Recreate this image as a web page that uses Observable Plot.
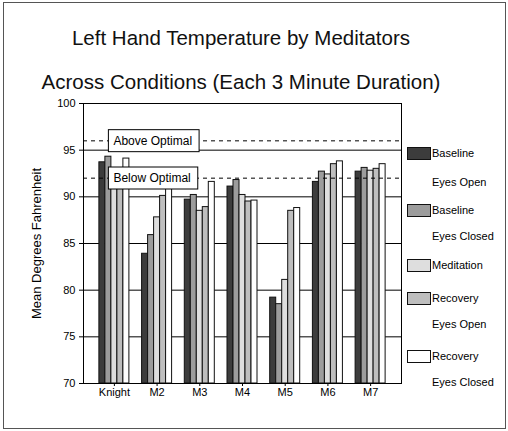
<!DOCTYPE html>
<html><head><meta charset="utf-8">
<script src="https://cdn.jsdelivr.net/npm/d3@7"></script>
<script src="https://cdn.jsdelivr.net/npm/@observablehq/plot@0.6"></script>
<style>
body{margin:0;background:#fff;}
#wrap{position:relative;width:508px;height:431px;overflow:hidden;font-family:"Liberation Sans",Arial,sans-serif;color:#000;background:#fff;}
#border{position:absolute;left:3px;top:2px;width:501px;height:425px;border:1px solid #555;}
.title{position:absolute;left:0;width:482px;text-align:center;font-size:20.5px;line-height:22px;white-space:nowrap;color:#111;}
#chart{position:absolute;left:0;top:95px;}
.leg{position:absolute;font-size:11px;line-height:12px;white-space:nowrap;}
.sw{position:absolute;width:22px;height:11px;border:1px solid #111;}
</style></head><body>
<div id="wrap">
  <div id="border"></div>
  <div class="title" style="top:27px">Left Hand Temperature by Meditators</div>
  <div class="title" style="top:71px">Across Conditions (Each 3 Minute Duration)</div>
  <div id="chart"></div>
  <div id="legend"></div>
</div>
<script>
const categories = ["Knight", "M2", "M3", "M4", "M5", "M6", "M7"];
const seriesNames = ["Baseline Eyes Open", "Baseline Eyes Closed", "Meditation", "Recovery Eyes Open", "Recovery Eyes Closed"];
const legendLines = [["Baseline", "Eyes Open"], ["Baseline", "Eyes Closed"], ["Meditation"], ["Recovery", "Eyes Open"], ["Recovery", "Eyes Closed"]];
const baselineEyesOpen   = [93.7, 83.9, 89.7, 91.1, 79.2, 91.6, 92.7];
const baselineEyesClosed = [94.3, 85.9, 90.2, 91.8, 78.5, 92.7, 93.1];
const meditation         = [92.7, 87.8, 88.5, 90.2, 81.1, 92.4, 92.8];
const recoveryEyesOpen   = [92.1, 90.1, 88.9, 89.5, 88.5, 93.5, 93.0];
const recoveryEyesClosed = [94.1, 92.0, 91.6, 89.6, 88.8, 93.8, 93.5];
const yTicks = [70, 75, 80, 85, 90, 95, 100];
const thresholdValues = [96, 92];
const thresholdLabels = ["Above Optimal", "Below Optimal"];
const yLabel = "Mean Degrees Fahrenheit";
const colors = ["#3c3c3c", "#9c9c9c", "#dedede", "#bebebe", "#ffffff"];

const seriesValues = [baselineEyesOpen, baselineEyesClosed, meditation, recoveryEyesOpen, recoveryEyesClosed];
const seriesRows = seriesValues.map((vals, i) => categories.map((c, j) => ({category: c, series: seriesNames[i], value: vals[j]})));
const thresholds = thresholdValues.map((v, i) => ({value: v, label: thresholdLabels[i], category: categories[0]}));
const yMin = yTicks[0], yMax = yTicks[yTicks.length - 1];
const barW = 6;
const nS = seriesNames.length;

const svg = Plot.plot({
  width: 508,
  height: 320,
  marginTop: 8,
  marginBottom: 32,
  marginLeft: 83,
  marginRight: 107,
  style: {fontFamily: '"Liberation Sans", Arial, sans-serif', fontSize: "11px", color: "#000", background: "transparent"},
  x: {domain: categories, paddingInner: 0.2974, paddingOuter: 0.372, align: 0.5, round: false},
  y: {domain: [yMin, yMax]},
  marks: [
    Plot.gridY(yTicks.slice(1, -1), {stroke: "#000", strokeOpacity: 1, strokeWidth: 1}),
    ...seriesRows.map((rows, i) => Plot.barY(rows, {
      x: "category", y1: () => yMin, y2: "value",
      fill: colors[i], stroke: "#111", strokeWidth: 1,
      insetLeft: i * barW, insetRight: (nS - 1 - i) * barW
    })),
    Plot.frame({stroke: "#000"}),
    Plot.ruleY(thresholds, {y: "value", stroke: "#000", strokeDasharray: "4,4", strokeWidth: 1}),
    Plot.axisY({ticks: yTicks, tickSize: 4, tickPadding: 4, label: yLabel, labelAnchor: "center", labelOffset: 52, labelArrow: "none"}),
    Plot.axisX({tickSize: 3, tickPadding: 2, label: null}),
    Plot.text(thresholds, {x: "category", y: "value", text: "label", textAnchor: "start", dx: -1, fontSize: 12, fill: "#000"})
  ]
});
document.getElementById("chart").appendChild(svg);

// y label font size
d3.select(svg).selectAll('g[aria-label="y-axis label"] text').attr("font-size", 13);

// boxes behind threshold labels
d3.select(svg).selectAll('g[aria-label="text"] text').each(function() {
  const b = this.getBBox();
  d3.select(this.parentNode).insert("rect", () => this)
    .attr("transform", this.getAttribute("transform"))
    .attr("x", b.x - 5).attr("y", b.y - 4)
    .attr("width", b.width + 12).attr("height", b.height + 8)
    .attr("fill", "#fff").attr("stroke", "#000").attr("stroke-width", 1);
});

// legend
const lineYs = [[153, 182], [210, 236], [265], [298, 324], [356, 382]];
const legend = document.getElementById("legend");
legendLines.forEach((lines, i) => {
  const sw = document.createElement("div");
  sw.className = "sw";
  sw.style.left = "407px";
  sw.style.top = (lineYs[i][0] - 6) + "px";
  sw.style.background = colors[i];
  legend.appendChild(sw);
  lines.forEach((t, k) => {
    const d = document.createElement("div");
    d.className = "leg";
    d.style.left = "432px";
    d.style.top = (lineYs[i][k] - 6) + "px";
    d.textContent = t;
    legend.appendChild(d);
  });
});
</script>
</body></html>
